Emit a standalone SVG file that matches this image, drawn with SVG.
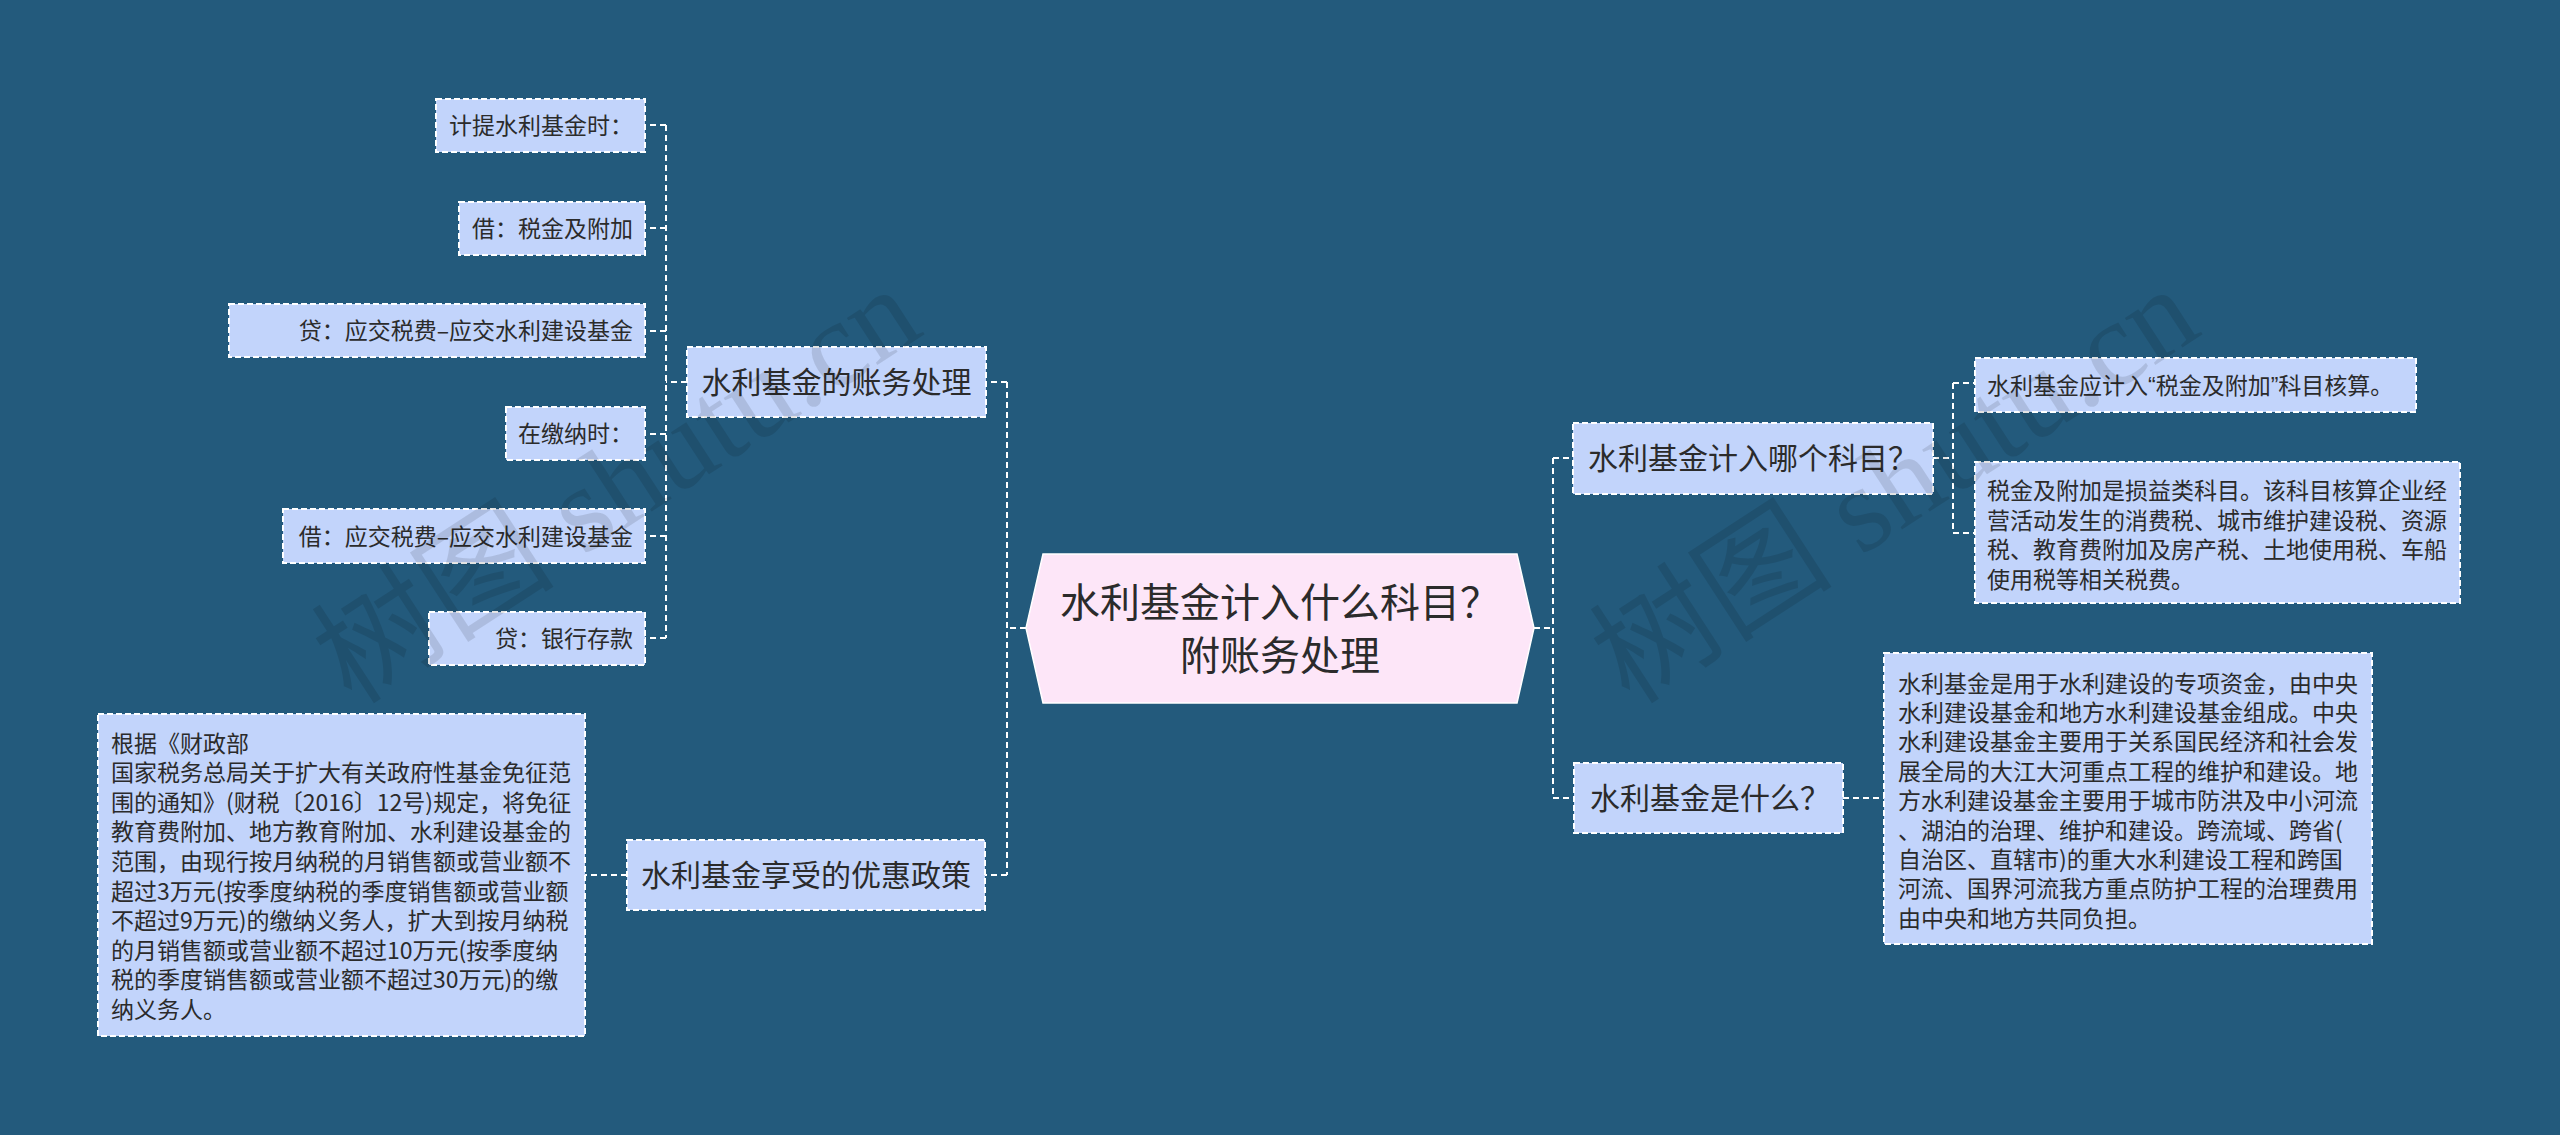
<svg xmlns="http://www.w3.org/2000/svg" width="2560" height="1135" viewBox="0 0 2560 1135">
<style>
.bg{fill:#235a7c}
.box{fill:#c2d4fb;stroke:#ffffff;stroke-width:2;stroke-dasharray:6 3}
.con{fill:none;stroke:#ffffff;stroke-width:2;stroke-dasharray:6 4}
.t{font-family:"Noto Sans CJK SC","Noto Sans",sans-serif;fill:#2b2b2b}
.leaf{font-size:23px}
.br{font-size:30px}
.ctr{font-size:40px}
.q{font-family:"Liberation Sans",sans-serif}
.wm{font-family:"Liberation Serif","Noto Sans CJK SC",serif;font-size:122px;fill:#000000;fill-opacity:0.11}
</style>
<rect class="bg" x="0" y="0" width="2560" height="1135"/>
<g id="connectors">
<path class="con" d="M1007 382 V875"/>
<path class="con" d="M1026 628 H1007"/>
<path class="con" d="M1007 382 H986"/>
<path class="con" d="M1007 875 H985"/>
<path class="con" d="M666 125 V638"/>
<path class="con" d="M687 382 H666"/>
<path class="con" d="M666 125 H645"/>
<path class="con" d="M666 228 H645"/>
<path class="con" d="M666 331 H645"/>
<path class="con" d="M666 434 H645"/>
<path class="con" d="M666 536 H645"/>
<path class="con" d="M666 638 H645"/>
<path class="con" d="M627 875 H585"/>
<path class="con" d="M1553 458 V798"/>
<path class="con" d="M1534 628 H1553"/>
<path class="con" d="M1553 458 H1573"/>
<path class="con" d="M1553 798 H1574"/>
<path class="con" d="M1953 383 V533"/>
<path class="con" d="M1933 458 H1953"/>
<path class="con" d="M1953 383 H1975"/>
<path class="con" d="M1953 533 H1975"/>
<path class="con" d="M1843 798 H1884"/>
</g>
<g id="root">
<polygon points="1043,554 1517,554 1534,628 1517,703 1043,703 1026,628" fill="#fde6f8" stroke="#ffffff" stroke-width="1.5"/>
<text class="t ctr" x="1280" y="617" text-anchor="middle">水利基金计入什么科目？</text>
<text class="t ctr" x="1280" y="670" text-anchor="middle">附账务处理</text>
</g>
<g id="n-zhangwu">
<rect class="box" x="687" y="347" width="299" height="70"/>
<text class="t br" x="836.5" y="393" text-anchor="middle">水利基金的账务处理</text>
</g>
<g id="n-youhui">
<rect class="box" x="627" y="840" width="358" height="70"/>
<text class="t br" x="806" y="886" text-anchor="middle">水利基金享受的优惠政策</text>
</g>
<g id="n-jiti">
<rect class="box" x="436" y="99" width="209" height="53"/>
<text class="t leaf" x="633" y="134" text-anchor="end">计提水利基金时：</text>
</g>
<g id="n-jie1">
<rect class="box" x="459" y="202" width="186" height="53"/>
<text class="t leaf" x="633" y="237" text-anchor="end">借：税金及附加</text>
</g>
<g id="n-dai1">
<rect class="box" x="229" y="304" width="416" height="53"/>
<text class="t leaf" x="633" y="339" text-anchor="end">贷：应交税费–应交水利建设基金</text>
</g>
<g id="n-jiaona">
<rect class="box" x="506" y="407" width="139" height="53"/>
<text class="t leaf" x="633" y="442" text-anchor="end">在缴纳时：</text>
</g>
<g id="n-jie2">
<rect class="box" x="283" y="509" width="362" height="54"/>
<text class="t leaf" x="633" y="545" text-anchor="end">借：应交税费–应交水利建设基金</text>
</g>
<g id="n-dai2">
<rect class="box" x="429" y="612" width="216" height="53"/>
<text class="t leaf" x="633" y="647" text-anchor="end">贷：银行存款</text>
</g>
<g id="n-youhui-text">
<rect class="box" x="98" y="714" width="487" height="322"/>
<text class="t leaf" x="111">
<tspan x="111" y="751.5">根据《财政部</tspan>
<tspan x="111" y="781.1">国家税务总局关于扩大有关政府性基金免征范</tspan>
<tspan x="111" y="810.7">围的通知》(财税〔2016〕12号)规定，将免征</tspan>
<tspan x="111" y="840.3">教育费附加、地方教育附加、水利建设基金的</tspan>
<tspan x="111" y="869.9">范围，由现行按月纳税的月销售额或营业额不</tspan>
<tspan x="111" y="899.5">超过3万元(按季度纳税的季度销售额或营业额</tspan>
<tspan x="111" y="929.1">不超过9万元)的缴纳义务人，扩大到按月纳税</tspan>
<tspan x="111" y="958.7">的月销售额或营业额不超过10万元(按季度纳</tspan>
<tspan x="111" y="988.3">税的季度销售额或营业额不超过30万元)的缴</tspan>
<tspan x="111" y="1017.9">纳义务人。</tspan>
</text>
</g>
<g id="n-kemu">
<rect class="box" x="1573" y="423" width="360" height="71"/>
<text class="t br" x="1588" y="469">水利基金计入哪个科目？</text>
</g>
<g id="n-kemu-1">
<rect class="box" x="1975" y="358" width="441" height="54"/>
<text class="t leaf" x="1987" y="394">水利基金应计入<tspan class="q">“</tspan>税金及附加<tspan class="q">”</tspan>科目核算。</text>
</g>
<g id="n-kemu-2">
<rect class="box" x="1975" y="462" width="485" height="141"/>
<text class="t leaf">
<tspan x="1987" y="499">税金及附加是损益类科目。该科目核算企业经</tspan>
<tspan x="1987" y="528.6">营活动发生的消费税、城市维护建设税、资源</tspan>
<tspan x="1987" y="558.2">税、教育费附加及房产税、土地使用税、车船</tspan>
<tspan x="1987" y="587.8">使用税等相关税费。</tspan>
</text>
</g>
<g id="n-shenme">
<rect class="box" x="1574" y="763" width="269" height="70"/>
<text class="t br" x="1590" y="809">水利基金是什么？</text>
</g>
<g id="n-shenme-1">
<rect class="box" x="1884" y="653" width="488" height="291"/>
<text class="t leaf">
<tspan x="1898" y="691.5">水利基金是用于水利建设的专项资金，由中央</tspan>
<tspan x="1898" y="720.9">水利建设基金和地方水利建设基金组成。中央</tspan>
<tspan x="1898" y="750.3">水利建设基金主要用于关系国民经济和社会发</tspan>
<tspan x="1898" y="779.7">展全局的大江大河重点工程的维护和建设。地</tspan>
<tspan x="1898" y="809.1">方水利建设基金主要用于城市防洪及中小河流</tspan>
<tspan x="1898" y="838.5">、湖泊的治理、维护和建设。跨流域、跨省(</tspan>
<tspan x="1898" y="867.9">自治区、直辖市)的重大水利建设工程和跨国</tspan>
<tspan x="1898" y="897.3">河流、国界河流我方重点防护工程的治理费用</tspan>
<tspan x="1898" y="926.7">由中央和地方共同负担。</tspan>
</text>
</g>
<g id="watermarks">
<text class="wm" transform="translate(352,706) rotate(-33)">树图 shutu.cn</text>
<text class="wm" transform="translate(1630,706) rotate(-33)">树图 shutu.cn</text>
</g>
</svg>
